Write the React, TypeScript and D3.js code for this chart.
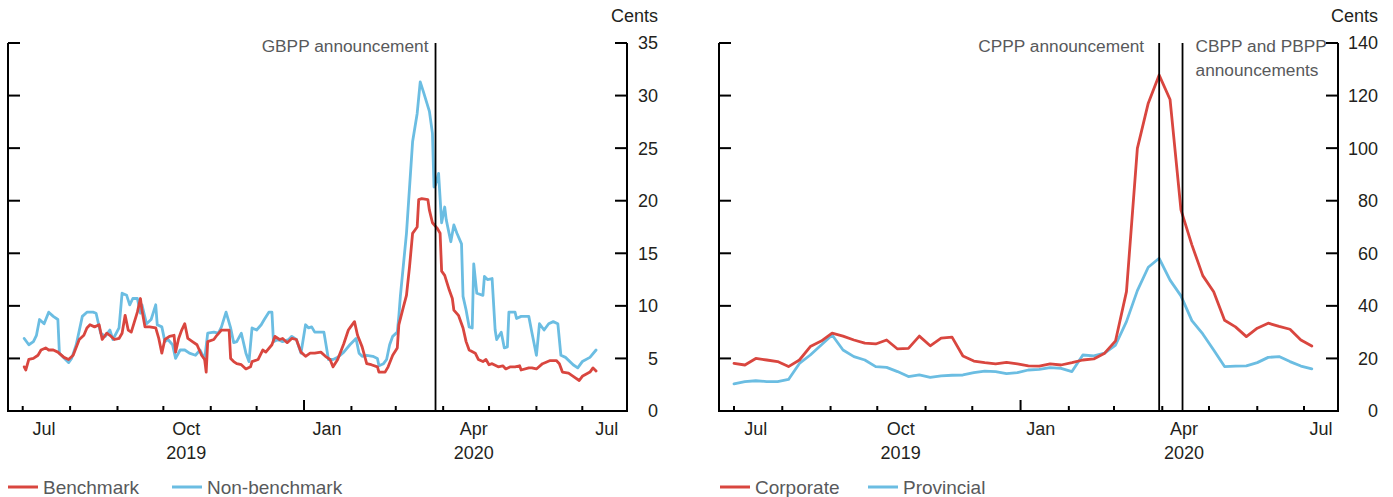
import React from 'react'
import * as d3 from 'd3'

const parse = d3.timeParse('%Y-%m-%d')

// Left panel: daily spreads, cents
const benchmarkDates = [
  '2019-07-02', '2019-07-03', '2019-07-05', '2019-07-08', '2019-07-11', '2019-07-13', '2019-07-16', '2019-07-18',
  '2019-07-21', '2019-07-24', '2019-07-28', '2019-07-31', '2019-08-03', '2019-08-07', '2019-08-10', '2019-08-12',
  '2019-08-14', '2019-08-17', '2019-08-20', '2019-08-22', '2019-08-25', '2019-08-27', '2019-08-30', '2019-09-02',
  '2019-09-04', '2019-09-06', '2019-09-08', '2019-09-10', '2019-09-14', '2019-09-16', '2019-09-17', '2019-09-19',
  '2019-09-22', '2019-09-26', '2019-09-28', '2019-09-30', '2019-10-02', '2019-10-05', '2019-10-08', '2019-10-09',
  '2019-10-11', '2019-10-13', '2019-10-15', '2019-10-17', '2019-10-20', '2019-10-23', '2019-10-26', '2019-10-28',
  '2019-10-29', '2019-10-30', '2019-11-03', '2019-11-05', '2019-11-08', '2019-11-13', '2019-11-14', '2019-11-16',
  '2019-11-18', '2019-11-21', '2019-11-24', '2019-11-27', '2019-11-28', '2019-12-02', '2019-12-05', '2019-12-07',
  '2019-12-11', '2019-12-13', '2019-12-16', '2019-12-18', '2019-12-21', '2019-12-24', '2019-12-27', '2019-12-30',
  '2020-01-02', '2020-01-05', '2020-01-08', '2020-01-12', '2020-01-15', '2020-01-18', '2020-01-20', '2020-01-23',
  '2020-01-27', '2020-01-30', '2020-01-31', '2020-02-03', '2020-02-05', '2020-02-08', '2020-02-11', '2020-02-14',
  '2020-02-18', '2020-02-19', '2020-02-23', '2020-02-25', '2020-02-28', '2020-03-02', '2020-03-03', '2020-03-06',
  '2020-03-08', '2020-03-10', '2020-03-12', '2020-03-15', '2020-03-16', '2020-03-18', '2020-03-22', '2020-03-23',
  '2020-03-25', '2020-03-28', '2020-03-30', '2020-03-31', '2020-04-02', '2020-04-05', '2020-04-07', '2020-04-08',
  '2020-04-11', '2020-04-14', '2020-04-16', '2020-04-18', '2020-04-22', '2020-04-24', '2020-04-27', '2020-04-29',
  '2020-05-01', '2020-05-03', '2020-05-07', '2020-05-10', '2020-05-12', '2020-05-15', '2020-05-18', '2020-05-21',
  '2020-05-22', '2020-05-27', '2020-05-29', '2020-06-01', '2020-06-05', '2020-06-10', '2020-06-14', '2020-06-16',
  '2020-06-18', '2020-06-22', '2020-06-26', '2020-06-29', '2020-07-01', '2020-07-06', '2020-07-08', '2020-07-10'
]
const benchmarkValues = [
  4.2, 3.9, 4.9, 5.0, 5.3, 5.8, 6.0, 5.8,
  5.8, 5.6, 5.1, 4.9, 5.3, 6.8, 7.2, 7.9,
  8.2, 8.0, 8.2, 6.8, 7.4, 7.2, 6.8, 6.9,
  7.4, 9.1, 7.7, 7.5, 9.4, 10.7, 9.6, 8.0,
  8.0, 7.9, 6.9, 5.5, 6.8, 7.1, 7.2, 5.6,
  6.9, 7.7, 8.3, 6.9, 6.6, 6.3, 5.3, 4.9,
  3.7, 6.6, 6.8, 7.2, 7.7, 7.7, 5.0, 4.7,
  4.5, 4.4, 4.0, 4.2, 4.7, 4.9, 5.8, 5.6,
  6.3, 7.1, 6.8, 6.9, 6.5, 6.9, 6.8, 5.6,
  5.2, 5.5, 5.5, 5.6, 5.2, 4.9, 4.2, 4.9,
  6.4, 7.7, 7.9, 8.5, 7.2, 6.1, 4.5, 4.4,
  4.2, 3.7, 3.7, 4.2, 5.3, 6.0, 8.2, 9.9,
  11.0, 13.7, 16.9, 17.5, 20.1, 20.2, 20.1, 19.1,
  17.9, 17.4, 16.9, 13.3, 12.9, 11.5, 10.7, 9.6,
  9.1, 7.9, 6.6, 5.8, 5.5, 4.9, 4.7, 4.9,
  4.4, 4.5, 4.2, 4.3, 4.0, 4.2, 4.2, 4.3,
  3.9, 4.1, 4.1, 4.0, 4.5, 4.8, 4.8, 4.5,
  3.7, 3.6, 3.2, 2.9, 3.3, 3.7, 4.1, 3.8
]

const nonBenchmarkDates = [
  '2019-07-02', '2019-07-05', '2019-07-08', '2019-07-10', '2019-07-12', '2019-07-15', '2019-07-18', '2019-07-21',
  '2019-07-24', '2019-07-25', '2019-07-29', '2019-07-31', '2019-08-02', '2019-08-05', '2019-08-09', '2019-08-12',
  '2019-08-16', '2019-08-18', '2019-08-21', '2019-08-24', '2019-08-27', '2019-08-29', '2019-09-02', '2019-09-04',
  '2019-09-07', '2019-09-09', '2019-09-11', '2019-09-14', '2019-09-16', '2019-09-17', '2019-09-20', '2019-09-23',
  '2019-09-26', '2019-09-27', '2019-09-30', '2019-10-02', '2019-10-04', '2019-10-07', '2019-10-09', '2019-10-12',
  '2019-10-15', '2019-10-18', '2019-10-22', '2019-10-25', '2019-10-28', '2019-10-30', '2019-11-03', '2019-11-06',
  '2019-11-08', '2019-11-11', '2019-11-14', '2019-11-16', '2019-11-18', '2019-11-21', '2019-11-24', '2019-11-26',
  '2019-11-28', '2019-12-01', '2019-12-04', '2019-12-06', '2019-12-09', '2019-12-11', '2019-12-12', '2019-12-15',
  '2019-12-18', '2019-12-22', '2019-12-24', '2019-12-27', '2019-12-30', '2020-01-02', '2020-01-04', '2020-01-06',
  '2020-01-08', '2020-01-11', '2020-01-14', '2020-01-17', '2020-01-20', '2020-01-23', '2020-01-27', '2020-01-31',
  '2020-02-04', '2020-02-06', '2020-02-08', '2020-02-11', '2020-02-15', '2020-02-18', '2020-02-19', '2020-02-22',
  '2020-02-24', '2020-02-26', '2020-02-28', '2020-03-02', '2020-03-03', '2020-03-04', '2020-03-08', '2020-03-12',
  '2020-03-15', '2020-03-17', '2020-03-19', '2020-03-23', '2020-03-25', '2020-03-26', '2020-03-27', '2020-03-29',
  '2020-03-31', '2020-04-02', '2020-04-03', '2020-04-06', '2020-04-08', '2020-04-10', '2020-04-13', '2020-04-14',
  '2020-04-16', '2020-04-18', '2020-04-20', '2020-04-21', '2020-04-23', '2020-04-27', '2020-04-28', '2020-04-30',
  '2020-05-03', '2020-05-05', '2020-05-06', '2020-05-09', '2020-05-11', '2020-05-13', '2020-05-14', '2020-05-18',
  '2020-05-19', '2020-05-22', '2020-05-27', '2020-05-29', '2020-06-01', '2020-06-03', '2020-06-06', '2020-06-09',
  '2020-06-12', '2020-06-15', '2020-06-17', '2020-06-20', '2020-06-25', '2020-06-28', '2020-07-01', '2020-07-06',
  '2020-07-10'
]
const nonBenchmarkValues = [
  6.9, 6.3, 6.6, 7.2, 8.7, 8.3, 9.4, 9.0,
  8.7, 5.5, 4.9, 4.6, 5.0, 6.3, 9.0, 9.4,
  9.4, 9.3, 7.4, 7.1, 7.7, 6.8, 7.9, 11.2,
  11.0, 10.1, 10.7, 10.7, 9.3, 10.1, 8.3, 8.7,
  10.1, 8.2, 8.0, 6.6, 6.8, 6.3, 5.0, 5.8,
  5.8, 5.5, 5.3, 5.8, 4.9, 7.4, 7.5, 7.4,
  8.0, 9.4, 7.9, 6.5, 6.6, 7.4, 5.5, 4.7,
  7.9, 7.7, 8.2, 8.7, 9.4, 9.4, 6.6, 6.8,
  6.6, 6.8, 7.1, 6.8, 5.5, 8.2, 7.9, 8.0,
  7.5, 7.5, 7.5, 4.9, 4.9, 5.1, 5.6, 6.3,
  6.9, 5.5, 5.2, 5.3, 5.2, 5.0, 4.3, 4.5,
  4.9, 6.3, 7.1, 7.5, 9.0, 10.9, 16.9, 25.6,
  28.3, 31.3, 30.4, 28.5, 26.4, 21.3, 21.5, 22.6,
  17.9, 19.4, 18.2, 16.1, 17.7, 16.9, 15.9, 10.9,
  9.6, 8.0, 7.9, 14.0, 11.2, 11.0, 12.8, 12.5,
  12.6, 7.7, 6.8, 7.5, 6.0, 6.1, 9.4, 9.4,
  8.8, 9.0, 9.0, 7.5, 5.3, 8.3, 7.7, 8.3,
  8.5, 8.3, 5.3, 5.1, 4.4, 4.1, 4.7, 5.1,
  5.8
]

// Right panel: weekly spreads (Mondays from 2019-07-01), cents
const weeklyStart = '2019-07-01'
const corporateValues = [
  18.1, 17.5, 20.0, 19.4, 18.8, 16.9, 19.4, 24.5, 26.6, 29.6,
  28.5, 27.0, 25.8, 25.5, 27.0, 23.6, 23.8, 28.5, 24.8, 27.7,
  28.1, 20.9, 19.0, 18.4, 17.9, 18.5, 17.9, 17.2, 17.1, 17.9,
  17.5, 18.4, 19.4, 19.8, 22.0, 26.7, 45.4, 99.9, 117.1, 127.8,
  118.5, 76.5, 63.2, 51.5, 45.4, 34.5, 32.0, 28.3, 31.5, 33.4,
  32.2, 31.1, 27.0, 24.7
]
const provincialValues = [
  10.3, 11.2, 11.5, 11.2, 11.2, 12.0, 18.1, 21.3, 25.1, 28.9,
  23.2, 20.7, 19.4, 16.9, 16.6, 15.0, 13.1, 13.7, 12.8, 13.4,
  13.6, 13.7, 14.6, 15.2, 15.0, 14.2, 14.6, 15.6, 15.8, 16.5,
  16.2, 15.0, 21.3, 21.0, 22.0, 25.1, 34.0, 45.8, 54.7, 58.1,
  49.8, 43.8, 34.4, 29.3, 23.2, 16.9, 17.1, 17.2, 18.4, 20.4,
  20.7, 18.8, 17.1, 16.0
]

const leftTicks = [0, 5, 10, 15, 20, 25, 30, 35]
const rightTicks = [0, 20, 40, 60, 80, 100, 120, 140]
const monthLabels = ['Jul', 'Oct', 'Jan', 'Apr', 'Jul']
const leftMonthLabelDates = ['2019-07-15', '2019-10-16', '2020-01-16', '2020-04-21', '2020-07-17']
const rightMonthLabelDates = ['2019-07-15', '2019-10-16', '2020-01-14', '2020-04-15', '2020-07-12']
const yearLabels = ['2019', '2020']
const leftYearLabelDates = ['2019-10-16', '2020-04-21']
const rightYearLabelDates = ['2019-10-16', '2020-04-15']

const RED = '#d9463f'
const BLUE = '#6bbde2'
const INK = '#231f20'
const GREY = '#58595b'
const FONT = '"Liberation Sans", Arial, Helvetica, sans-serif'
const TOP = 43
const BOTTOM = 411

const monthStarts = d3.timeMonth.range(new Date(2019, 6, 1), new Date(2020, 6, 2))

type Series = { dates: Date[]; values: number[]; color: string }

function Panel(props: {
  x0: number
  x1: number
  x: d3.ScaleTime<number, number>
  y: d3.ScaleLinear<number, number>
  ticks: number[]
  labelRight: number
  monthDates: string[]
  yearDates: string[]
  series: Series[]
  children?: React.ReactNode
}) {
  const { x0, x1, x, y, ticks, labelRight, monthDates, yearDates, series, children } = props
  return (
    <g>
      {series.map((s, i) => {
        const line = d3.line<number>()
          .x((_, j) => x(s.dates[j]))
          .y(d => y(d))
        return (
          <path key={i} d={line(s.values) || ''} fill="none" stroke={s.color}
            strokeWidth={2.8} strokeLinejoin="round" strokeLinecap="round" />
        )
      })}
      {children}
      <path d={`M${x0},${TOP}V${BOTTOM}H${x1}V${TOP}`} fill="none" stroke="#000" strokeWidth={2} />
      {ticks.map(t => (
        <g key={t}>
          <line x1={x0} x2={x0 + 12} y1={y(t)} y2={y(t)} stroke="#000" strokeWidth={2} />
          <line x1={x1 - 12} x2={x1} y1={y(t)} y2={y(t)} stroke="#000" strokeWidth={2} />
          <text x={labelRight} y={y(t)} dy="0.36em" textAnchor="end" fontSize={18} fill={INK}>{t}</text>
        </g>
      ))}
      <text x={labelRight} y={22} textAnchor="end" fontSize={18} fill={INK}>Cents</text>
      {monthStarts.map((m, i) => (
        <line key={i} x1={x(m)} x2={x(m)} y1={BOTTOM}
          y2={m.getMonth() === 0 ? BOTTOM - 11 : BOTTOM - 5} stroke="#000" strokeWidth={2} />
      ))}
      {monthLabels.map((m, i) => (
        <text key={i} x={x(parse(monthDates[i])!)} y={435} textAnchor="middle" fontSize={18} fill={INK}>{m}</text>
      ))}
      {yearLabels.map((m, i) => (
        <text key={i} x={x(parse(yearDates[i])!)} y={459} textAnchor="middle" fontSize={18} fill={INK}>{m}</text>
      ))}
    </g>
  )
}

function Legend({ x, items }: { x: number[]; items: { label: string; color: string }[] }) {
  return (
    <g>
      {items.map((d, i) => (
        <g key={d.label} transform={`translate(${x[i]},487)`}>
          <line x1={0} x2={30} y1={0} y2={0} stroke={d.color} strokeWidth={3} />
          <text x={35} y={0} dy="0.36em" fontSize={19} fill={GREY}>{d.label}</text>
        </g>
      ))}
    </g>
  )
}

export default function App() {
  // left: anchored on measured month-tick positions
  const xLeft = d3.scaleTime()
    .domain([new Date(2019, 6, 1), new Date(2020, 6, 1)])
    .range([22.7, 582.3])
  const yLeft = d3.scaleLinear().domain([0, 35]).range([BOTTOM, TOP])

  const xRight = d3.scaleTime()
    .domain([new Date(2019, 6, 1), new Date(2020, 6, 1)])
    .range([734, 1304])
  const yRight = d3.scaleLinear().domain([0, 140]).range([BOTTOM, TOP])

  const weekly = d3.range(corporateValues.length).map(i => d3.timeDay.offset(parse(weeklyStart)!, 7 * i))

  const gbpp = xLeft(parse('2020-03-27')!)
  const cppp = xRight(parse('2020-03-30')!)
  const cbpp = xRight(parse('2020-04-14')!)

  return (
    <div style={{ position: 'absolute', left: 0, top: 0, background: '#fff' }}>
      <svg width={1393} height={497} style={{ display: 'block', fontFamily: FONT }}>
        <Panel x0={8} x1={627} x={xLeft} y={yLeft} ticks={leftTicks} labelRight={658}
          monthDates={leftMonthLabelDates} yearDates={leftYearLabelDates}
          series={[
            { dates: nonBenchmarkDates.map(d => parse(d)!), values: nonBenchmarkValues, color: BLUE },
            { dates: benchmarkDates.map(d => parse(d)!), values: benchmarkValues, color: RED }
          ]}>
          <line x1={gbpp} x2={gbpp} y1={TOP} y2={BOTTOM} stroke="#000" strokeWidth={1.8} />
          <text x={gbpp - 7} y={52} textAnchor="end" fontSize={17.3} fill={GREY}>GBPP announcement</text>
        </Panel>
        <Panel x0={719} x1={1338} x={xRight} y={yRight} ticks={rightTicks} labelRight={1378}
          monthDates={rightMonthLabelDates} yearDates={rightYearLabelDates}
          series={[
            { dates: weekly, values: provincialValues, color: BLUE },
            { dates: weekly, values: corporateValues, color: RED }
          ]}>
          <line x1={cppp} x2={cppp} y1={TOP} y2={BOTTOM} stroke="#000" strokeWidth={1.8} />
          <line x1={cbpp} x2={cbpp} y1={TOP} y2={BOTTOM} stroke="#000" strokeWidth={1.8} />
          <text x={cppp - 15} y={52} textAnchor="end" fontSize={17.3} fill={GREY}>CPPP announcement</text>
          <text x={cbpp + 13} y={52} fontSize={17.3} fill={GREY}>CBPP and PBPP</text>
          <text x={cbpp + 13} y={76} fontSize={17.3} fill={GREY}>announcements</text>
        </Panel>
        <Legend x={[8, 172]} items={[{ label: 'Benchmark', color: RED }, { label: 'Non-benchmark', color: BLUE }]} />
        <Legend x={[720, 868]} items={[{ label: 'Corporate', color: RED }, { label: 'Provincial', color: BLUE }]} />
      </svg>
    </div>
  )
}
